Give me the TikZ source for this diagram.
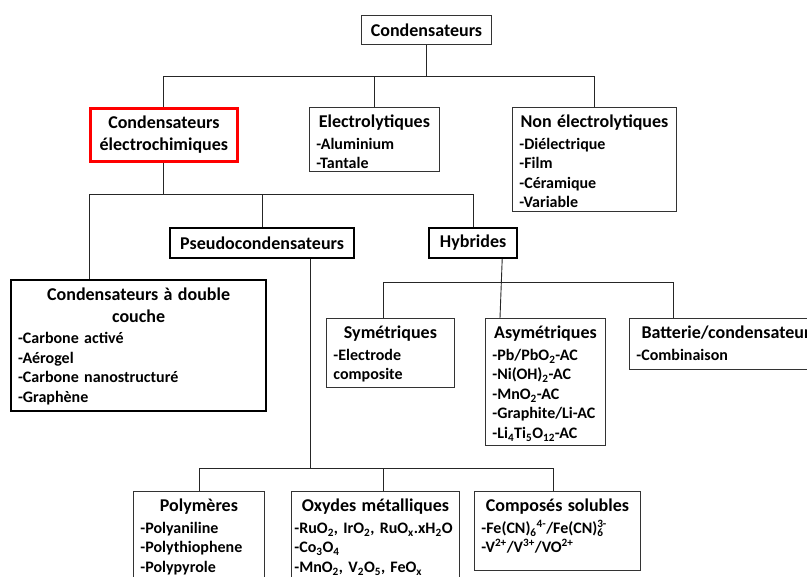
\documentclass[tikz,border=0pt]{standalone}
\usepackage{fontspec}
\setmainfont{Carlito}
\newcommand{\titlefont}{\bfseries\fontsize{18}{21.5}\selectfont}
\newcommand{\itemfont}{\bfseries\fontsize{16}{19.5}\selectfont}
\newcommand{\cattitle}[1]{{\centering\titlefont #1\par}\vspace{2pt}}
\tikzset{
  catbox/.style={draw=black!80, line width=0.9pt, anchor=north west, align=left,
    inner xsep=7pt, inner ysep=4pt, text height=16.5pt, font=\itemfont},
  keybox/.style={catbox, draw=black, line width=2.2pt},
  redbox/.style={catbox, draw=red, line width=2.8pt},
  headbox/.style={draw=black!80, line width=0.9pt, anchor=north west, inner sep=0pt, font=\titlefont},
  boxsize/.style n args={3}{minimum width=#1, text width=#2, text depth=#3},
  link/.style={draw=black!85, line width=0.9pt}
}
\begin{document}
\begin{tikzpicture}[x=1pt, y=-1pt]
\useasboundingbox (0,0) rectangle (807,577);
% top level
\node[headbox, minimum width=130pt, minimum height=29pt] (root) at (361,15) {Condensateurs};
\node[redbox, boxsize={147pt}{133pt}{28.5pt}] (elec) at (89,107)
  {\cattitle{Condensateurs\\électrochimiques}};
\node[catbox, boxsize={130pt}{116pt}{39.5pt}] (electro) at (309,107)
  {\cattitle{Electrolytiques}-Aluminium\\-Tantale};
\node[catbox, boxsize={164pt}{150pt}{79.5pt}] (nonelec) at (512,107)
  {\cattitle{Non électrolytiques}-Diélectrique\\-Film\\-Céramique\\-Variable};

% electrochemical branch
\node[headbox, draw=black, line width=2.2pt, minimum width=184pt, minimum height=30pt] (pseudo) at (169,227) {Pseudocondensateurs};
\node[headbox, draw=black, line width=2.2pt, minimum width=88pt, minimum height=30pt] (hybr) at (428,227) {Hybrides};
\node[keybox, boxsize={255pt}{241pt}{106.5pt}] (edlc) at (10,279)
  {\cattitle{Condensateurs à double\\couche}-Carbone activé\\-Aérogel\\-Carbone nanostructuré\\-Graphène};

% hybrids
\node[catbox, boxsize={128pt}{114pt}{44.5pt}] (sym) at (326,318)
  {\cattitle{Symétriques}-Electrode\\composite};
\node[catbox, boxsize={120pt}{106pt}{102.5pt}] (asym) at (485,318)
  {\cattitle{Asymétriques}-Pb/PbO\textsubscript{2}-AC\\-Ni(OH)\textsubscript{2}-AC\\-MnO\textsubscript{2}-AC\\-Graphite/Li-AC\\-Li\textsubscript{4}Ti\textsubscript{5}O\textsubscript{12}-AC};
\node[catbox, boxsize={200pt}{186pt}{26.5pt}] (batt) at (629,318)
  {\cattitle{Batterie/condensateurs}-Combinaison};

% pseudocapacitors
\node[catbox, boxsize={131pt}{117pt}{85.5pt}] (poly) at (133,491)
  {\cattitle{Polymères}-Polyaniline\\-Polythiophene\\-Polypyrole};
\node[catbox, inner xsep=3pt, boxsize={168pt}{162pt}{85.5pt}] (oxy) at (291,491)
  {\cattitle{Oxydes métalliques}\mbox{-RuO\textsubscript{2}, IrO\textsubscript{2}, RuO\textsubscript{x}.xH\textsubscript{2}O}\\-Co\textsubscript{3}O\textsubscript{4}\\-MnO\textsubscript{2}, V\textsubscript{2}O\textsubscript{5}, FeO\textsubscript{x}};
\node[catbox, boxsize={166pt}{152pt}{54.5pt}] (comp) at (474,491)
  {\cattitle{Composés solubles}-Fe(CN)\textsubscript{6}\textsuperscript{4-}/Fe(CN)\rlap{\textsubscript{6}}\textsuperscript{3-}\\-V\textsuperscript{2+}/V\textsuperscript{3+}/VO\textsuperscript{2+}};

% bus lines
\coordinate (busA) at (0,76);
\coordinate (busB) at (0,194);
\coordinate (busC) at (0,282);
\coordinate (busD) at (0,468);
\coordinate (edlc top) at ([xshift=79pt]edlc.north west);
\coordinate (pseudo foot) at ([xshift=-45pt]pseudo.south east);
\coordinate (hybr foot) at ([xshift=-16pt]hybr.south east);
\coordinate (sym top) at ([xshift=57pt]sym.north west);
\coordinate (asym top) at ([xshift=15pt]asym.north west);
\coordinate (batt top) at ([xshift=44pt]batt.north west);
\coordinate (oxy top) at ([xshift=8pt]oxy.north);
\coordinate (comp top) at ([xshift=-4pt]comp.north);

\draw[link] (root.south) -- (root.south |- busA);
\draw[link] (elec.north) |- (nonelec.north |- busA) -- (nonelec.north);
\draw[link] (electro.north) -- (electro.north |- busA);

\draw[link] (elec.south) -- (elec.south |- busB);
\draw[link] (edlc top) |- (hybr.north |- busB) -- (hybr.north);
\draw[link] (pseudo.north) -- (pseudo.north |- busB);

\draw[link] (hybr foot) -- (asym top);
\draw[link] (sym top) |- (batt top |- busC) -- (batt top);

\draw[link] (pseudo foot) -- (pseudo foot |- busD);
\draw[link] (poly.north) |- (comp top |- busD) -- (comp top);
\draw[link] (oxy top) -- (oxy top |- busD);
\end{tikzpicture}
\end{document}
